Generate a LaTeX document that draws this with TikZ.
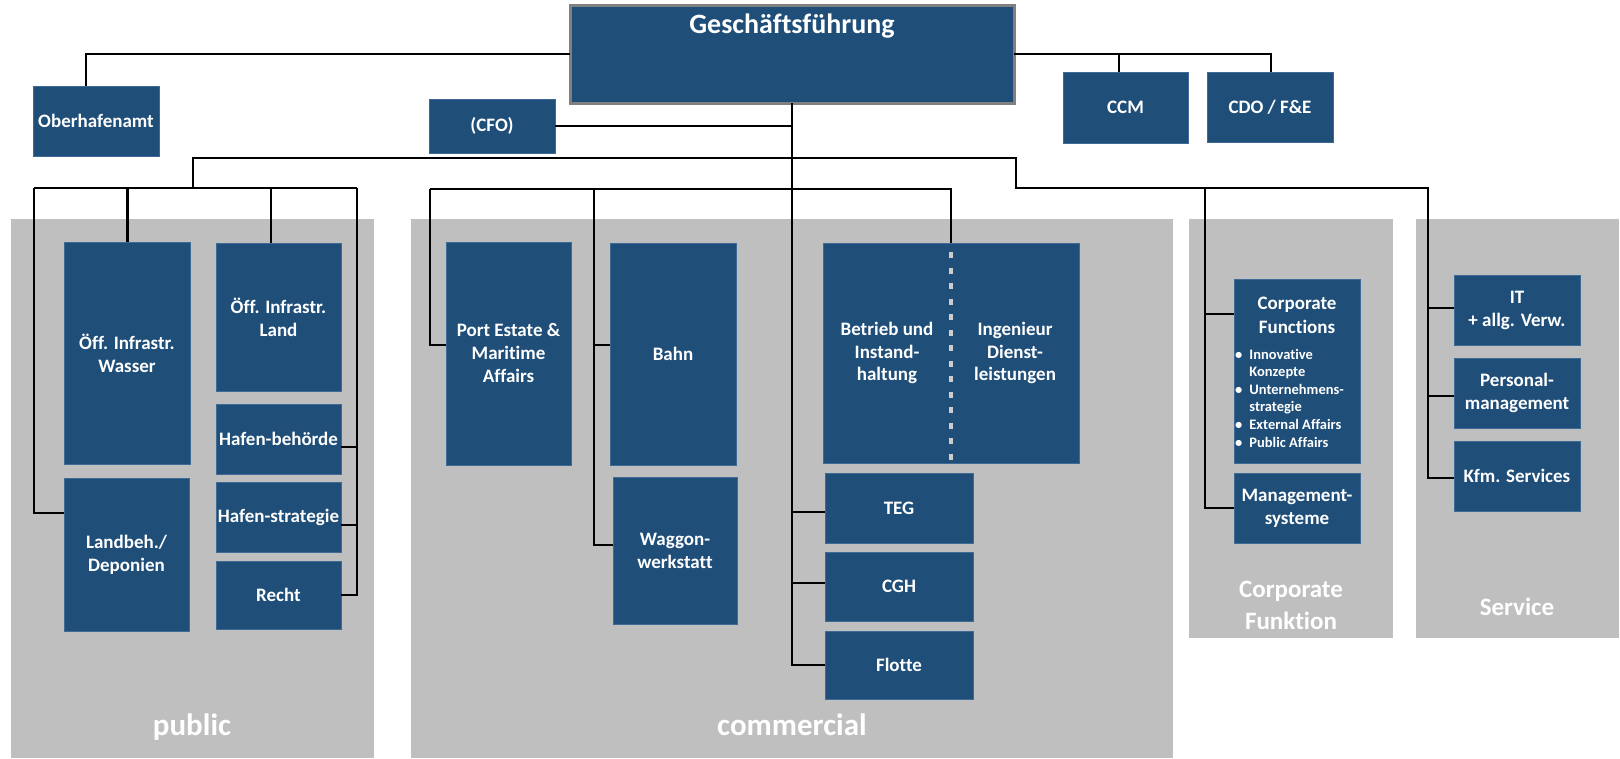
\documentclass[tikz,border=0pt]{standalone}
\usepackage{fontspec}
\setmainfont{Carlito}[Ligatures=CommonOff]
\usetikzlibrary{calc}
\definecolor{boxblue}{RGB}{31,78,121}
\definecolor{boxedge}{RGB}{62,106,150}
\definecolor{panelgray}{RGB}{191,191,191}
\definecolor{gfedge}{RGB}{128,128,128}
\definecolor{dashgray}{RGB}{205,205,205}
\begin{document}
\begin{tikzpicture}[x=1pt,y=-1pt,
  orgbox/.style={draw=boxedge, line width=0.8pt, fill=boxblue, text=white, inner sep=0pt, outer sep=0pt, align=center, font=\bfseries\fontsize{19}{23}\selectfont},
  plabel/.style={text=white, font=\bfseries\fontsize{31}{31}\selectfont, inner sep=0pt, anchor=base},
  slabel/.style={text=white, font=\bfseries\fontsize{25}{25}\selectfont, inner sep=0pt, anchor=base},
  btext/.style={text=white, inner sep=0pt, align=center, font=\bfseries\fontsize{19}{22.5}\selectfont},
  conn/.style={draw=black, line width=1.9pt},
  thinconn/.style={draw=black, line width=1.3pt},
  thickconn/.style={draw=black, line width=3pt},
  dashline/.style={draw=dashgray, line width=4pt, dash pattern=on 6pt off 9.5pt, dash phase=-9pt},
]
\useasboundingbox (0,0) rectangle (1620,758);

% panels
\fill[panelgray] (11,219) rectangle (374,758);
\fill[panelgray] (411,219) rectangle (1173,758);
\fill[panelgray] (1189,219) rectangle (1393,638);
\fill[panelgray] (1416,219) rectangle (1619,638);

% panel labels
\node[plabel] (lpub) at (192,735) {public};
\node[plabel] (lcom) at (792,735) {commercial};
\node[slabel] (lcorpa) at (1291,597) {Corporate};
\node[slabel] (lcorpb) at (1291,629) {Funktion};
\node[slabel] (lserv) at (1517,615) {Service};

% top level
\node[orgbox, draw=gfedge, line width=3pt, minimum width=444pt, minimum height=98pt] (gf) at (792,54) {};
\node[text=white, font=\bfseries\fontsize{28}{28}\selectfont, anchor=base, inner sep=0pt] (gft) at (792,33) {Geschäftsführung};
\node[orgbox, minimum width=126pt, minimum height=70pt] (obh) at (96,121) {Oberhafenamt};
\node[orgbox, minimum width=126pt, minimum height=54pt] (cfo) at (492,126) {(CFO)};
\node[orgbox, minimum width=125pt, minimum height=71pt] (ccm) at (1125.5,107.5) {CCM};
\node[orgbox, minimum width=126pt, minimum height=70pt] (cdo) at (1270,107) {CDO / F\&E};

% public
\node[orgbox, minimum width=126pt, minimum height=222pt] (wasser) at (127,353) {Öff. Infrastr.\\Wasser};
\node[orgbox, minimum width=125pt, minimum height=148pt] (land) at (278.5,317) {Öff. Infrastr.\\Land};
\node[orgbox, minimum width=125pt, minimum height=70pt] (hb) at (278.5,439) {Hafen-behörde};
\node[orgbox, minimum width=125pt, minimum height=70pt] (hs) at (278.5,517) {Hafen-strategie};
\node[orgbox, minimum width=125pt, minimum height=68pt] (recht) at (278.5,595) {Recht};
\node[orgbox, minimum width=125pt, minimum height=153pt] (lb) at (126.5,554.5) {Landbeh./\\Deponien};

% commercial
\node[orgbox, minimum width=125pt, minimum height=223pt] (pe) at (508.5,353.5) {Port Estate \&\\Maritime\\Affairs};
\node[orgbox, minimum width=126pt, minimum height=222pt] (bahn) at (673,354) {Bahn};
\node[orgbox, minimum width=124pt, minimum height=147pt] (wg) at (675,550.5) {Waggon-\\werkstatt};
\node[orgbox, minimum width=256pt, minimum height=220pt] (betrieb) at (951,353) {};
\node[btext] (betl) at (887,353) {Betrieb und\\Instand-\\haltung};
\node[btext] (betr) at (1015,353) {Ingenieur\\Dienst-\\leistungen};
\node[orgbox, minimum width=148pt, minimum height=70pt] (teg) at (899,508) {TEG};
\node[orgbox, minimum width=148pt, minimum height=69pt] (cgh) at (899,586.5) {CGH};
\node[orgbox, minimum width=148pt, minimum height=68pt] (flotte) at (899,665) {Flotte};

% corporate
\node[orgbox, minimum width=126pt, minimum height=184pt] (cf) at (1297,371) {};
\node[btext, anchor=base, font=\bfseries\fontsize{19}{23}\selectfont] (cfa) at (1297,309) {Corporate};
\node[btext, anchor=base, font=\bfseries\fontsize{19}{23}\selectfont] (cfb) at (1297,333) {Functions};
\node[text=white, inner sep=0pt, anchor=base west, font=\bfseries\fontsize{14.5}{17.6}\selectfont] (cfl) at (1235,359)
  {\begin{tabular}[t]{@{}l@{\hspace{7pt}}l@{}}
   \textbullet & Innovative\\
               & Konzepte\\
   \textbullet & Unternehmens-\\
               & strategie\\
   \textbullet & External Affairs\\
   \textbullet & Public Affairs
   \end{tabular}};
\node[orgbox, minimum width=126pt, minimum height=70pt] (mgmt) at (1297,508) {Management-\\systeme};

% service
\node[orgbox, minimum width=126pt, minimum height=70pt] (it) at (1517,310) {IT\\+ allg. Verw.};
\node[orgbox, minimum width=126pt, minimum height=70pt] (pers) at (1517,393) {Personal-\\management};
\node[orgbox, minimum width=126pt, minimum height=70pt] (kfm) at (1517,476) {Kfm. Services};

% dashed divider
\draw[dashline] (betrieb.north) -- (betrieb.south);

% anchor helpers
\coordinate (obhtop) at ([xshift=53pt]obh.north west);
\coordinate (ccmtop) at ([xshift=56pt]ccm.north west);
\coordinate (cdotop) at ([xshift=64pt]cdo.north west);
\coordinate (landtop) at ([xshift=55pt]land.north west);
\coordinate (lbin) at ([yshift=41.5pt]lb.west);
\coordinate (hbin) at ([yshift=-8pt]hb.east);
\coordinate (hsin) at ([yshift=-8pt]hs.east);
\coordinate (pein) at ([yshift=8.5pt]pe.west);
\coordinate (bahnin) at ([yshift=9pt]bahn.west);
\coordinate (wgin) at ([yshift=5.5pt]wg.west);
\coordinate (tegin) at ([yshift=-4pt]teg.west);
\coordinate (cghin) at ([yshift=3.5pt]cgh.west);
\coordinate (cfin) at ([yshift=57pt]cf.west);
\coordinate (itin) at ([yshift=2pt]it.west);
\coordinate (persin) at ([yshift=-3pt]pers.west);
\coordinate (kfmin) at ([yshift=-2pt]kfm.west);
\coordinate (j1) at (193,158);
\coordinate (j2) at (1016,158);
\coordinate (j3) at (1016,188);
\coordinate (pubL) at (34,188);
\coordinate (pubR) at (357,188);
\coordinate (comL) at (430,189);
\coordinate (comM) at (594,189);
\coordinate (corpT) at (1205,188);
\coordinate (servT) at (1428,188);

% top connectors
\draw[conn] (gf.west) -| (obhtop);
\draw[conn] (gf.east) -| (cdotop);
\draw[thinconn] (ccmtop) -- (ccmtop |- gf.east);
\draw[conn] (cfo.east) -- (cfo.east -| gf.south);
\draw[conn] (gf.south) -- (gf.south |- flotte.west) -- (flotte.west);
\draw[conn] (tegin -| gf.south) -- (tegin);
\draw[conn] (cghin -| gf.south) -- (cghin);

% main distribution line
\draw[conn] (j1 |- pubL) -- (j1) -- (j2) -- (j3) -- (servT) -- (servT |- kfmin) -- (kfmin);

% public
\draw[conn] (pubL) -- (pubR);
\draw[conn] (pubL) -- (pubL |- lbin) -- (lbin);
\draw[thickconn] (wasser.north) -- (wasser.north |- pubL);
\draw[thinconn] (landtop) -- (landtop |- pubL);
\draw[conn] (pubR) -- (pubR |- recht.east) -- (recht.east);
\draw[conn] (hbin -| pubR) -- (hbin);
\draw[conn] (hsin -| pubR) -- (hsin);

% commercial
\draw[conn] (comL) -- (comL -| betrieb.north) -- (betrieb.north);
\draw[conn] (comL) -- (comL |- pein) -- (pein);
\draw[conn] (comM) -- (comM |- wgin) -- (wgin);
\draw[conn] (bahnin -| comM) -- (bahnin);

% corporate
\draw[conn] (corpT) -- (corpT |- mgmt.west) -- (mgmt.west);
\draw[conn] (cfin -| corpT) -- (cfin);

% service
\draw[conn] (itin -| servT) -- (itin);
\draw[conn] (persin -| servT) -- (persin);
\end{tikzpicture}
\end{document}
